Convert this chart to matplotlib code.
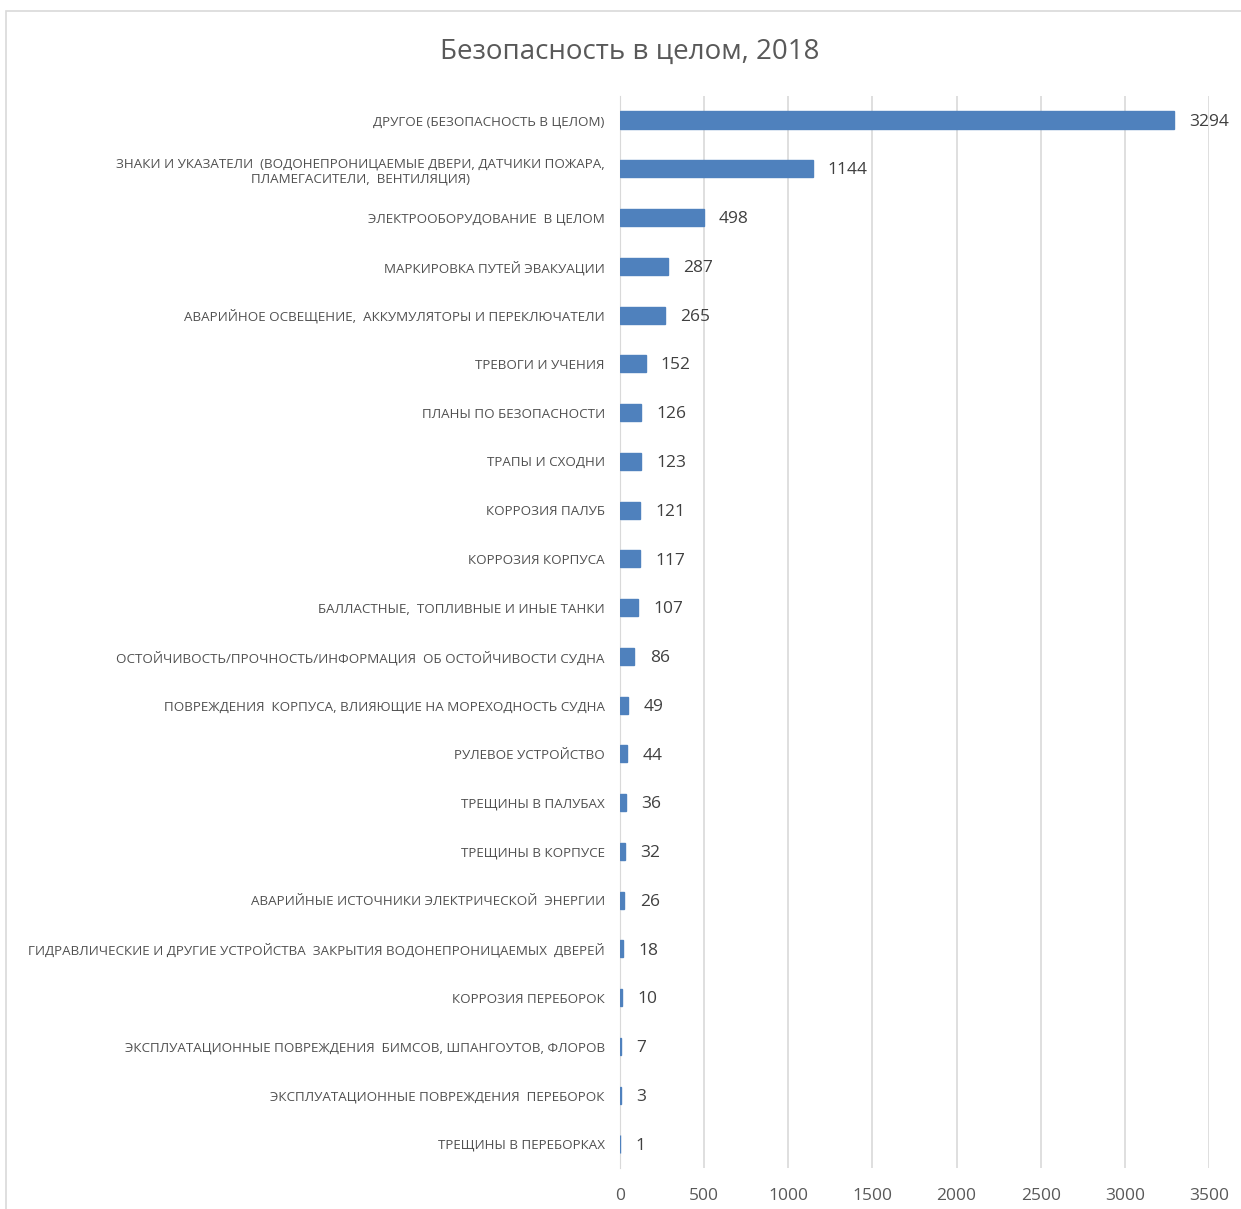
import matplotlib
matplotlib.use('Agg')
import matplotlib.pyplot as plt
from matplotlib.patches import Rectangle

plt.rcParams['font.family'] = ['Open Sans', 'DejaVu Sans']

title = 'Безопасность в целом, 2018'

categories = [
    'ДРУГОЕ (БЕЗОПАСНОСТЬ В ЦЕЛОМ)',
    'ЗНАКИ И УКАЗАТЕЛИ  (ВОДОНЕПРОНИЦАЕМЫЕ ДВЕРИ, ДАТЧИКИ ПОЖАРА,\nПЛАМЕГАСИТЕЛИ,  ВЕНТИЛЯЦИЯ)',
    'ЭЛЕКТРООБОРУДОВАНИЕ  В ЦЕЛОМ',
    'МАРКИРОВКА ПУТЕЙ ЭВАКУАЦИИ',
    'АВАРИЙНОЕ ОСВЕЩЕНИЕ,  АККУМУЛЯТОРЫ И ПЕРЕКЛЮЧАТЕЛИ',
    'ТРЕВОГИ И УЧЕНИЯ',
    'ПЛАНЫ ПО БЕЗОПАСНОСТИ',
    'ТРАПЫ И СХОДНИ',
    'КОРРОЗИЯ ПАЛУБ',
    'КОРРОЗИЯ КОРПУСА',
    'БАЛЛАСТНЫЕ,  ТОПЛИВНЫЕ И ИНЫЕ ТАНКИ',
    'ОСТОЙЧИВОСТЬ/ПРОЧНОСТЬ/ИНФОРМАЦИЯ  ОБ ОСТОЙЧИВОСТИ СУДНА',
    'ПОВРЕЖДЕНИЯ  КОРПУСА, ВЛИЯЮЩИЕ НА МОРЕХОДНОСТЬ СУДНА',
    'РУЛЕВОЕ УСТРОЙСТВО',
    'ТРЕЩИНЫ В ПАЛУБАХ',
    'ТРЕЩИНЫ В КОРПУСЕ',
    'АВАРИЙНЫЕ ИСТОЧНИКИ ЭЛЕКТРИЧЕСКОЙ  ЭНЕРГИИ',
    'ГИДРАВЛИЧЕСКИЕ И ДРУГИЕ УСТРОЙСТВА  ЗАКРЫТИЯ ВОДОНЕПРОНИЦАЕМЫХ  ДВЕРЕЙ',
    'КОРРОЗИЯ ПЕРЕБОРОК',
    'ЭКСПЛУАТАЦИОННЫЕ ПОВРЕЖДЕНИЯ  БИМСОВ, ШПАНГОУТОВ, ФЛОРОВ',
    'ЭКСПЛУАТАЦИОННЫЕ ПОВРЕЖДЕНИЯ  ПЕРЕБОРОК',
    'ТРЕЩИНЫ В ПЕРЕБОРКАХ',
]
values = [3294, 1144, 498, 287, 265, 152, 126, 123, 121, 117, 107,
          86, 49, 44, 36, 32, 26, 18, 10, 7, 3, 1]
xticks = [0, 500, 1000, 1500, 2000, 2500, 3000, 3500]

bar_color = '#4f81bd'
grid_color = '#d9d9d9'

fig = plt.figure(figsize=(12.41, 12.09), dpi=100)
ax = fig.add_axes([0.4996, 0.0336, 0.4746, 0.8873])

# chart frame (right and bottom edges fall outside the image)
fig.patches.append(Rectangle((6 / 1241, -0.05), 1.2, 1.05 - 11 / 1209,
                             transform=fig.transFigure, fill=False,
                             edgecolor=grid_color, linewidth=1.2))

ax.spines['left'].set_color(grid_color)
ax.spines['left'].set_zorder(1)

pos = list(range(len(categories)))
# thin edge so that the tiny bars (1, 3, 7) still show as a line
ax.barh(pos, values, height=0.35, color=bar_color, edgecolor=bar_color,
        linewidth=1.0, zorder=3)

for p, v in zip(pos, values):
    ax.annotate(str(v), xy=(v, p), xytext=(11, -1.2), textcoords='offset points',
                va='center', ha='left', fontsize=12.5, color='#404040')

ax.set_yticks(pos)
ax.set_yticklabels(categories, fontsize=9.6, color='#505050', multialignment='center')
ax.set_ylim(len(categories) - 0.5, -0.5)
ax.set_xlim(0, 3500)
ax.set_xticks(xticks)
ax.set_xticklabels([str(t) for t in xticks], fontsize=12.5, color='#595959')
ax.tick_params(axis='both', length=0)
ax.tick_params(axis='y', pad=11)
ax.tick_params(axis='x', pad=14)

ax.grid(axis='x', color=grid_color, linewidth=1.2, zorder=0)
for s in ['top', 'right', 'bottom']:
    ax.spines[s].set_visible(False)

fig.text(630 / 1241, 1 - 52 / 1209, title, ha='center', va='center',
         fontsize=20, color='#595959')

fig.savefig('out.png', dpi=100)
